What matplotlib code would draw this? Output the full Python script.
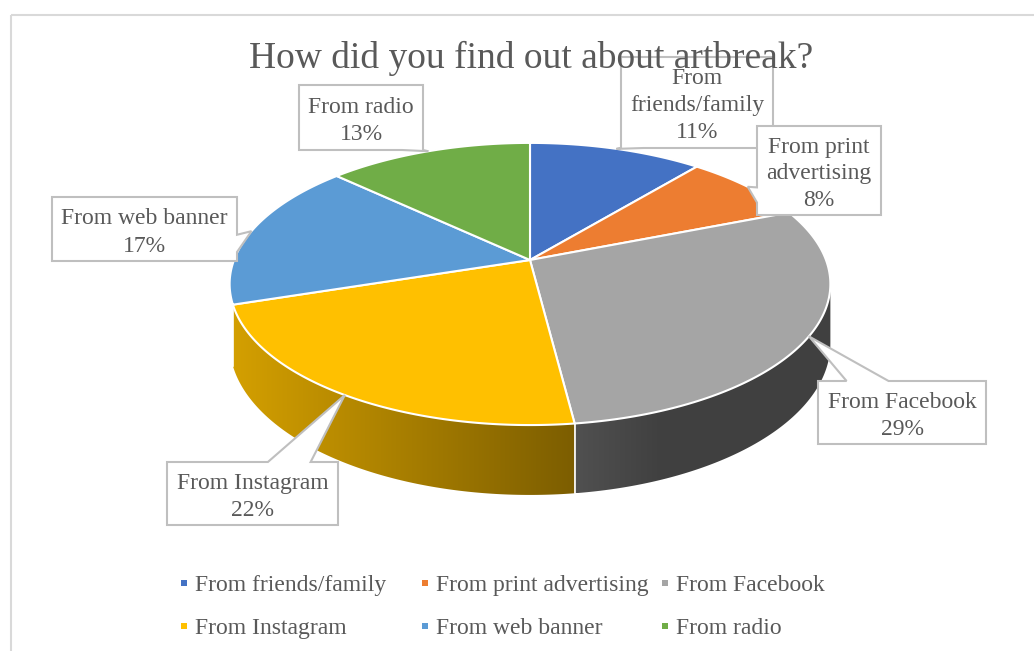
import numpy as np
import matplotlib
matplotlib.use("Agg")
import matplotlib.pyplot as plt
from matplotlib.patches import Polygon, Rectangle
from matplotlib.colors import to_rgb

# ---------------- data ----------------
title = "How did you find out about artbreak?"
categories = ["From friends/family", "From print advertising", "From Facebook",
              "From Instagram", "From web banner", "From radio"]
values = [11, 8, 29, 22, 17, 13]
label_lines = [["From", "friends/family"], ["From print", "advertising"], ["From Facebook"],
               ["From Instagram"], ["From web banner"], ["From radio"]]
colors = ["#4472C4", "#ED7D31", "#A5A5A5", "#FFC000", "#5B9BD5", "#70AD47"]

# ---------------- layout ----------------
W, H = 1034, 651
CX, CY = 530.0, 260.0      # apex of the pie (pixels)
A, B = 296.0, 137.0        # half axes of the top face
K = 0.17                   # perspective strength
T = 58.0                   # thickness
WALL_LEFT_END = 252.5      # left silhouette of the side wall (deg, clockwise from top)
TEXT = "#595959"
FONT = "Liberation Serif"

# callout boxes: x0, y0, x1, y1, side of the pointer, fraction range on that side
callouts = [
    (621, 57, 773, 148, "bottom", 0.00, 0.15),
    (757, 126, 881, 215, "left", 0.69, 0.86),
    (818, 381, 986, 444, "top", 0.17, 0.42),
    (167, 462, 338, 525, "top", 0.59, 0.84),
    (52, 197, 237, 261, "right", 0.59, 0.86),
    (299, 85, 423, 150, "bottom", 0.83, 1.00),
]

fig = plt.figure(figsize=(W / 100, H / 100), dpi=100)
ax = fig.add_axes([0, 0, 1, 1])
ax.set_xlim(0, W)
ax.set_ylim(H, 0)
ax.axis("off")

# chart frame
ax.add_patch(Rectangle((10.5, 14.5), W + 20, H + 20, fill=False,
                       ec="#D9D9D9", lw=1.5, zorder=0))


def rim(theta, drop=0.0):
    t = np.radians(theta)
    u, w = np.sin(t), np.cos(t)
    s = 1.0 / (1.0 + K * w)
    return CX + A * u * s, CY - B * w * s + drop * T * s


def shade(x):
    return np.interp(x, [233, 572, 660, 830], [0.83, 0.49, 0.39, 0.39])


cum = np.concatenate([[0], np.cumsum(values)]) / np.sum(values) * 360.0
th_a = np.degrees(np.arccos(-K))
th_b = min(360.0 - th_a, WALL_LEFT_END)

# side walls
for i in range(len(values)):
    a, b = max(cum[i], th_a), min(cum[i + 1], th_b)
    if b <= a + 1.0:
        continue
    th = np.linspace(a, b, 120)
    xt, yt = rim(th)
    xb, yb = rim(th[::-1], 1.0)
    pts = np.column_stack([np.concatenate([xt, xb]), np.concatenate([yt, yb])])
    poly = Polygon(pts, closed=True, fc="none", ec="none")
    ax.add_patch(poly)
    x0, x1 = pts[:, 0].min(), pts[:, 0].max()
    y0, y1 = pts[:, 1].min(), pts[:, 1].max()
    xs = np.linspace(x0, x1, 256)
    img = np.clip(np.array(to_rgb(colors[i]))[None, None, :] * shade(xs)[None, :, None], 0, 1)
    im = ax.imshow(img, extent=[x0, x1, y1, y0], aspect="auto",
                   interpolation="bilinear", zorder=2)
    im.set_clip_path(poly)

for c in cum[1:-1]:
    if th_a < c < th_b:
        (xa, ya), (xb_, yb_) = rim(c), rim(c, 1.0)
        ax.plot([xa, xb_], [ya, yb_], color="white", lw=1.2, zorder=2.5)

# top face
for i in range(len(values)):
    th = np.linspace(cum[i], cum[i + 1], 150)
    xs, ys = rim(th)
    pts = np.column_stack([np.concatenate([[CX], xs]), np.concatenate([[CY], ys])])
    ax.add_patch(Polygon(pts, closed=True, fc=colors[i], ec="white", lw=1.5,
                         joinstyle="round", zorder=3))

ax.set_xlim(0, W)
ax.set_ylim(H, 0)

# callouts
LINE = 27.0
for i, (x0, y0, x1, y1, side, f0, f1) in enumerate(callouts):
    tip = rim((cum[i] + cum[i + 1]) / 2.0)
    w, h = x1 - x0, y1 - y0
    v = [(x0, y0)]
    if side == "top":
        v += [(x0 + f0 * w, y0), tip, (x0 + f1 * w, y0)]
    v += [(x1, y0)]
    if side == "right":
        v += [(x1, y0 + f0 * h), tip, (x1, y0 + f1 * h)]
    v += [(x1, y1)]
    if side == "bottom":
        v += [(x0 + f1 * w, y1), tip, (x0 + f0 * w, y1)]
    v += [(x0, y1)]
    if side == "left":
        v += [(x0, y0 + f1 * h), tip, (x0, y0 + f0 * h)]
    ax.add_patch(Polygon(v, closed=True, fc="white", ec="#BFBFBF", lw=1.5,
                         joinstyle="miter", zorder=5))
    lines = label_lines[i] + [f"{values[i]}%"]
    cx, cy = (x0 + x1) / 2.0, (y0 + y1) / 2.0
    n = len(lines)
    for j, s in enumerate(lines):
        ax.text(cx, cy + (j - (n - 1) / 2.0) * LINE + 9.0, s, ha="center", va="baseline",
                fontsize=17, color=TEXT, family=FONT, zorder=6)

# title
ax.text(531, 68, title, ha="center", va="baseline", fontsize=27, color=TEXT,
        family=FONT, zorder=10)

# legend
leg_x = [184, 425, 665]
leg_y = [583, 626]
for i, name in enumerate(categories):
    r, c = divmod(i, 3)
    x, y = leg_x[c], leg_y[r]
    ax.add_patch(Rectangle((x - 3, y - 3), 6, 6, fc=colors[i], ec="none", zorder=6))
    ax.text(x + 11, y + 8, name, ha="left", va="baseline", fontsize=17,
            color=TEXT, family=FONT, zorder=6)

fig.savefig("out.png", dpi=100)
